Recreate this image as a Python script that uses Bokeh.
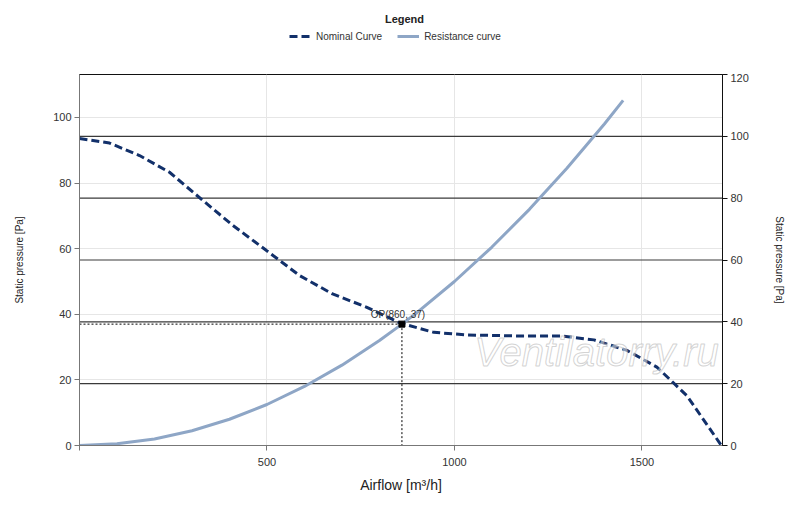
from bokeh.plotting import figure
from bokeh.layouts import column
from bokeh.models import (Range1d, LinearAxis, FixedTicker, Label, Legend, LegendItem)
from bokeh.embed import file_html
from bokeh.resources import INLINE

# ---- data ----
nominal_x = [0, 80, 160, 240, 329, 409, 498, 587, 675, 765, 856, 945, 1034, 1167, 1283, 1372, 1460, 1540, 1620, 1712]
nominal_y = [93.6, 92.2, 88.4, 83.3, 74.7, 67.1, 59.5, 51.8, 46.2, 42.2, 37.3, 34.5, 33.7, 33.4, 33.4, 32.2, 29.0, 23.9, 15.2, 0.0]

resist_x = [0, 100, 200, 300, 400, 500, 600, 700, 800, 860, 900, 1000, 1100, 1200, 1300, 1400, 1450]
resist_y = [0.0, 0.5, 2.0, 4.5, 8.0, 12.5, 18.0, 24.5, 32.0, 37.0, 40.5, 50.0, 60.5, 72.0, 84.5, 98.0, 105.2]

op_x = 860
op_y = 37
op_label = "OP(860, 37)"

x_ticks = [0, 500, 1000, 1500]
left_ticks = [0, 20, 40, 60, 80, 100]
right_ticks = [0, 20, 40, 60, 80, 100, 120]

x_max = 1715
left_max = 113.1
right_max = 120

series_names = ["Nominal Curve", "Resistance curve"]

FONT = "Liberation Sans"
NAVY = "#12306a"
LIGHT = "#8ea6c6"
NOM_DASH = "8 4"

# ---------------- legend strip (frame is aligned with the main chart's frame) ----------------
lg = figure(width=800, height=73, output_backend="svg", toolbar_location=None,
            x_axis_type=None, y_axis_type=None,
            x_range=Range1d(-100000, -99000), y_range=Range1d(-100000, -99000),
            min_border=0)
lg.outline_line_color = None
lg.xgrid.visible = False
lg.ygrid.visible = False
d_nom = lg.line(nominal_x, nominal_y, line_color=NAVY, line_width=3, line_dash=NOM_DASH)
d_res = lg.line(resist_x, resist_y, line_color=LIGHT, line_width=3)
legend = Legend(items=[LegendItem(label=series_names[0], renderers=[d_nom]),
                       LegendItem(label=series_names[1], renderers=[d_res])],
                orientation="horizontal", location=(210, 30),
                border_line_color=None, background_fill_alpha=0,
                label_text_font=FONT, label_text_font_size="10px", label_text_color="#333333",
                glyph_width=22, glyph_height=14, label_height=14, label_standoff=5,
                spacing=15, padding=2, margin=0)
lg.add_layout(legend, "center")
lg.add_layout(Label(x=325, y=55, x_units="screen", y_units="screen", text="Legend",
                    text_font=FONT, text_font_size="11px", text_font_style="bold",
                    text_color="#222222", text_align="center", text_baseline="middle"))

# ---------------- main chart ----------------
p = figure(width=800, height=434, output_backend="svg", toolbar_location=None,
           x_range=Range1d(0, x_max), y_range=Range1d(0, left_max),
           min_border_left=79, min_border_right=78, min_border_top=1, min_border_bottom=62)
p.extra_y_ranges = {"right": Range1d(0, right_max)}
p.background_fill_color = "white"
p.border_fill_color = "white"
p.outline_line_color = "#111111"
p.outline_line_width = 1

p.xgrid.ticker = FixedTicker(ticks=[500, 1000, 1500])
p.ygrid.ticker = FixedTicker(ticks=left_ticks)
for g in (p.xgrid, p.ygrid):
    g.grid_line_color = "#e6e6e6"
    g.grid_line_width = 1

# dark grid lines from the right axis
p.segment(x0=[0] * 5, x1=[x_max] * 5, y0=right_ticks[1:6], y1=right_ticks[1:6],
          line_color="#3a3a3a", line_width=1.2, y_range_name="right")

def style_axis(ax, color):
    ax.axis_line_color = color
    ax.major_tick_line_color = color
    ax.minor_tick_line_color = None
    ax.major_tick_out = 5
    ax.major_tick_in = 0
    ax.major_label_text_font = FONT
    ax.major_label_text_font_size = "11px"
    ax.major_label_text_color = "#333333"
    ax.axis_label_text_font = FONT
    ax.axis_label_text_font_style = "normal"
    ax.axis_label_text_color = "#222222"

xa = p.xaxis[0]
xa.ticker = FixedTicker(ticks=x_ticks)
xa.major_label_overrides = {0: ""}
style_axis(xa, "#777777")
xa.axis_label = "Airflow [m³/h]"
xa.axis_label_text_font_size = "14px"
xa.major_label_standoff = 7
xa.axis_label_standoff = 8

ya = p.yaxis[0]
ya.ticker = FixedTicker(ticks=left_ticks)
style_axis(ya, "#777777")
ya.axis_label = "Static pressure [Pa]"
ya.axis_label_text_font_size = "10px"
ya.major_label_standoff = 3
ya.axis_label_standoff = 25

ra = LinearAxis(y_range_name="right", ticker=FixedTicker(ticks=right_ticks))
style_axis(ra, "#111111")
ra.axis_label = "Static pressure [Pa]"
ra.axis_label_text_font_size = "10px"
ra.major_label_standoff = 3
ra.axis_label_standoff = 22
p.add_layout(ra, "right")

# OP dotted guide lines
p.line([0, op_x], [op_y, op_y], line_color="black", line_width=1, line_dash="2 2")
p.line([op_x, op_x], [op_y, 0], line_color="black", line_width=1, line_dash="2 2")

# curves
p.line(resist_x, resist_y, line_color=LIGHT, line_width=3)
p.line(nominal_x, nominal_y, line_color=NAVY, line_width=3, line_dash=NOM_DASH)

# OP marker and label
p.scatter([op_x], [op_y], marker="square", size=6, color="black")
p.add_layout(Label(x=op_x, y=op_y, text=op_label, text_font=FONT, text_font_size="10px",
                   text_color="#333333", text_align="center", text_baseline="bottom",
                   x_offset=-4, y_offset=4))

# watermark
p.add_layout(Label(x=1379, y=28.4, text="Ventilatorry.ru", text_font=FONT, text_font_size="40px",
                   text_font_style="italic", text_color="white", text_alpha=0.5,
                   text_outline_color="#a8a8a8", text_align="center", text_baseline="middle"))

layout = column(lg, p, spacing=0)
open("out.html", "w").write(file_html(layout, INLINE))
